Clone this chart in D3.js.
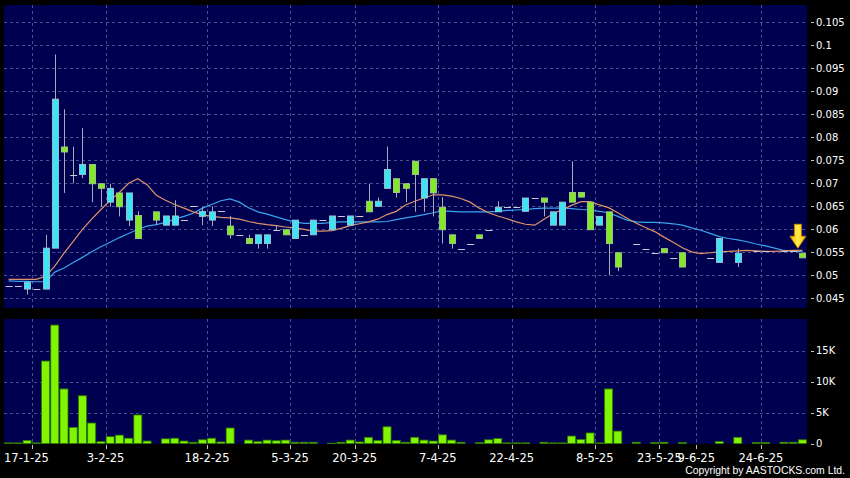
<!DOCTYPE html>
<html><head><meta charset="utf-8">
<script src="https://cdn.jsdelivr.net/npm/d3@7"></script>
<style>body{margin:0;background:#000;overflow:hidden}svg{display:block}</style>
</head><body>
<svg id="chart" width="850" height="478"></svg>
<script>
// ---- data (one slot per trading bar; null = no candle) ----
const openP  = [0.0477,0.0477,0.047,0.047,0.047,0.0559,0.0779,0.0719,0.0719,0.0741,0.0699,0.0659,0.0679,0.062,0.063,null,0.0638,0.0609,0.0609,0.062,0.0651,0.0628,0.062,0.064,0.0607,0.0588,0.058,0.0569,0.0569,0.0599,0.0599,0.058,0.0588,0.0588,0.062,0.0599,0.0629,0.0609,0.0629,0.0661,0.065,0.0689,0.071,0.0699,0.0748,0.0668,0.071,0.0648,0.0588,0.0558,0.0569,0.0588,0.0599,0.0638,0.0648,0.0648,0.0639,0.0668,0.0668,0.0609,0.0609,0.068,0.068,0.0659,0.0609,0.0638,0.0549,null,0.0569,0.0558,0.0549,0.0558,0.0538,0.0549,null,null,0.0538,0.0528,null,0.0528,null,0.0553,0.0553,null,0.0553,0.0553,0.0548];
const highP  = [0.0477,0.0477,0.0485,0.047,0.0588,0.098,0.0861,0.078,0.082,0.0741,0.0699,0.0699,0.0679,0.0679,0.0639,null,0.0638,0.0629,0.0663,0.062,0.0651,0.0648,0.065,0.064,0.0629,0.0588,0.0588,0.0588,0.0588,0.0609,0.0599,0.062,0.0588,0.062,0.062,0.0629,0.0629,0.0629,0.0629,0.0699,0.0669,0.078,0.071,0.0699,0.0748,0.071,0.071,0.067,0.0588,0.0558,0.0569,0.0588,0.0599,0.0661,0.0648,0.0648,0.0668,0.0668,0.0668,0.0638,0.0659,0.0748,0.068,0.0659,0.0628,0.0638,0.0549,null,0.0569,0.0558,0.0549,0.0558,0.0538,0.0549,null,null,0.0538,0.058,null,0.0558,null,0.0553,0.0553,null,0.0553,0.0553,0.0548];
const lowP   = [0.0477,0.0477,0.0458,0.047,0.047,0.0559,0.0679,0.070,0.0711,0.0659,0.0649,0.0649,0.0628,0.0607,0.058,null,0.0609,0.0609,0.0609,0.062,0.0651,0.0609,0.0607,0.064,0.058,0.0588,0.0569,0.0558,0.0558,0.0599,0.0588,0.058,0.0588,0.0588,0.062,0.0599,0.0629,0.0609,0.0629,0.0638,0.065,0.0689,0.0669,0.0659,0.0638,0.0638,0.0628,0.0569,0.0558,0.0558,0.0569,0.058,0.0599,0.0638,0.0648,0.0648,0.0639,0.0668,0.0628,0.0609,0.0609,0.0659,0.067,0.0599,0.0609,0.050,0.0509,null,0.0569,0.0558,0.0549,0.0549,0.0538,0.0518,null,null,0.0538,0.0528,null,0.0518,null,0.0553,0.0553,null,0.0553,0.0553,0.0538];
const closeP = [0.0477,0.0477,0.0485,0.047,0.0559,0.0883,0.0768,0.0719,0.0741,0.0699,0.0689,0.0689,0.0649,0.0679,0.058,null,0.062,0.0629,0.0629,0.062,0.0651,0.0639,0.0638,0.064,0.0588,0.0588,0.0569,0.0588,0.0588,0.0599,0.0588,0.062,0.0588,0.062,0.062,0.0629,0.0629,0.0629,0.0629,0.0638,0.0661,0.073,0.068,0.0689,0.0719,0.071,0.0679,0.0599,0.0569,0.0558,0.0569,0.058,0.0599,0.0648,0.0648,0.0648,0.0668,0.0668,0.0659,0.0638,0.0659,0.0659,0.067,0.0599,0.0628,0.0569,0.0518,null,0.0569,0.0558,0.0549,0.0549,0.0538,0.0518,null,null,0.0538,0.058,null,0.0548,null,0.0553,0.0553,null,0.0553,0.0553,0.0538];
const volumeK = [0.1,0.1,0.5,0.1,13.3,19.1,8.8,2.6,7.7,3.3,0.3,1.1,1.35,0.85,4.6,0.4,0,0.75,0.85,0.4,0.2,0.6,0.85,0.25,2.5,0,0.55,0.3,0.55,0.45,0.55,0.2,0.2,0.2,0,0.05,0.2,0.55,0.25,1.0,0.5,2.7,0.5,0.2,1.0,0.55,0.4,1.4,0.55,0.2,0,0.15,0.6,0.8,0.1,0.1,0.1,0,0.2,0.1,0.1,1.2,0.65,1.7,0.1,8.8,2.0,0,0.2,0,0.15,0.2,0,0.15,0,0,0,0.3,0,1.0,0,0.15,0.15,0,0.2,0.2,0.6];
const ma10 = [0.0491,0.0491,0.0491,0.0491,0.0498,0.0520,0.0548,0.0574,0.0600,0.0622,0.0643,0.0663,0.0680,0.0700,0.0710,0.0697,0.0674,0.0663,0.0654,0.0646,0.0638,0.0632,0.0628,0.0626,0.0625,0.0622,0.0617,0.0613,0.0610,0.0608,0.0605,0.0603,0.0600,0.0596,0.0596,0.0597,0.0602,0.0608,0.0612,0.0616,0.0622,0.0632,0.0639,0.0653,0.0661,0.0668,0.0675,0.0675,0.0672,0.0667,0.0659,0.0646,0.0636,0.0629,0.0623,0.0616,0.0611,0.0609,0.0622,0.0634,0.0643,0.0652,0.0660,0.0660,0.0653,0.0647,0.0636,0.0624,0.0613,0.0604,0.0595,0.0583,0.0572,0.0560,0.0551,0.0547,0.0549,0.0551,0.0552,0.0553,0.0554,0.0553,0.0552,0.0552,0.0553,0.0554,0.0554];
const ma20 = [0.0488,0.0487,0.0487,0.0486,0.0486,0.0507,0.0516,0.0528,0.0539,0.0551,0.0562,0.0572,0.0582,0.0591,0.0600,0.0607,0.0610,0.0615,0.0622,0.0628,0.0635,0.0646,0.0654,0.0662,0.0666,0.0659,0.0647,0.0638,0.0633,0.0627,0.0621,0.0616,0.0613,0.0613,0.0613,0.0615,0.0616,0.0616,0.0616,0.0616,0.0616,0.0617,0.0621,0.0625,0.0628,0.0632,0.0636,0.0640,0.0639,0.0638,0.0638,0.0638,0.0638,0.0639,0.0641,0.0642,0.0643,0.0645,0.0646,0.0646,0.0646,0.0645,0.0643,0.0642,0.0639,0.0636,0.0628,0.0620,0.0616,0.0615,0.0615,0.0614,0.0612,0.0609,0.0603,0.0598,0.0591,0.0584,0.0580,0.0577,0.0573,0.0568,0.0564,0.0559,0.0554,0.0552,0.0552];
const dateLabels = ["17-1-25","3-2-25","18-2-25","5-3-25","20-3-25","7-4-25","22-4-25","8-5-25","23-5-25","9-6-25","24-6-25"];
const dateIndex  = [2.5,10.5,21.5,30.5,37.5,46.5,54.5,63.5,70.5,74.5,81.5];
const priceTicks = [0.045,0.05,0.055,0.06,0.065,0.07,0.075,0.08,0.085,0.09,0.095,0.1,0.105];
const volTicks = [0,5,10,15];
const volTickLabels = ["0","5K","10K","15K"];

// ---- layout ----
const svg = d3.select("#chart");
const L = 4, R = 807;
const main = {top:5, bottom:308};
const vol = {top:319, bottom:444};
const n = closeP.length;
const x = d3.scaleLinear().domain([-0.5, n - 0.5]).range([L, R]);
const y = d3.scaleLinear().domain([0.045, 0.105]).range([298.3, 22.3]);
const yv = d3.scaleLinear().domain([0, 15]).range([443.5, 350.5]);

svg.append("rect").attr("width",850).attr("height",478).attr("fill","#000");
const bg = "#000050";
svg.append("rect").attr("x",L).attr("y",main.top).attr("width",R-L).attr("height",main.bottom-main.top).attr("fill",bg);
svg.append("rect").attr("x",L).attr("y",vol.top).attr("width",R-L).attr("height",vol.bottom-vol.top).attr("fill",bg);

const gridColor = "#4e4e8c";
const defs = svg.append("defs");
defs.append("clipPath").attr("id","clipMain").append("rect").attr("x",L).attr("y",main.top).attr("width",R-L).attr("height",main.bottom-main.top);
defs.append("clipPath").attr("id","clipVol").append("rect").attr("x",L).attr("y",vol.top).attr("width",R-L).attr("height",vol.bottom-vol.top);

// grid main
const gMain = svg.append("g").attr("clip-path","url(#clipMain)");
gMain.selectAll("line.h").data(priceTicks).join("line")
  .attr("x1",L).attr("x2",R).attr("y1",d=>Math.round(y(d))+0.5).attr("y2",d=>Math.round(y(d))+0.5)
  .attr("stroke",gridColor).attr("stroke-width",1).attr("stroke-dasharray","3,3");
gMain.selectAll("line.v").data(dateIndex).join("line")
  .attr("x1",d=>Math.round(x(d))+0.5).attr("x2",d=>Math.round(x(d))+0.5).attr("y1",main.top).attr("y2",main.bottom)
  .attr("stroke",gridColor).attr("stroke-width",1).attr("stroke-dasharray","3,3");

// grid volume
const gVol = svg.append("g").attr("clip-path","url(#clipVol)");
gVol.selectAll("line.h").data(volTicks.slice(1)).join("line")
  .attr("x1",L).attr("x2",R).attr("y1",d=>Math.round(yv(d))+0.5).attr("y2",d=>Math.round(yv(d))+0.5)
  .attr("stroke",gridColor).attr("stroke-dasharray","3,3");
gVol.selectAll("line.v").data(dateIndex).join("line")
  .attr("x1",d=>Math.round(x(d))+0.5).attr("x2",d=>Math.round(x(d))+0.5).attr("y1",vol.top).attr("y2",vol.bottom)
  .attr("stroke",gridColor).attr("stroke-dasharray","3,3");

// volume bars
const idx = d3.range(n);
gVol.selectAll("rect.vb").data(idx.filter(i=>volumeK[i]>0)).join("rect")
  .attr("x",i=>x(i)-4).attr("width",8)
  .attr("y",i=>yv(volumeK[i])).attr("height",i=>Math.max(0.8,yv(0)-yv(volumeK[i])))
  .attr("fill","#80f400").attr("stroke","#2f7a00").attr("stroke-width",0.8);

// moving averages
const line = d3.line().x((d,i)=>x(i)).y(d=>y(d)).curve(d3.curveLinear);
gMain.append("path").datum(ma20).attr("d",line).attr("fill","none").attr("stroke","#3aa4ec").attr("stroke-width",1.2);
gMain.append("path").datum(ma10).attr("d",line).attr("fill","none").attr("stroke","#e0926a").attr("stroke-width",1.2);

// candles
const valid = idx.filter(i=>closeP[i]!==null);
const colorOf = i => closeP[i]>openP[i] ? "up" : (closeP[i]<openP[i] ? "down" : "flat");
gMain.selectAll("line.wick").data(valid.filter(i=>highP[i]>lowP[i])).join("line")
  .attr("x1",i=>Math.round(x(i))+0.5).attr("x2",i=>Math.round(x(i))+0.5)
  .attr("y1",i=>y(highP[i])).attr("y2",i=>y(lowP[i]))
  .attr("stroke","#a8a8b8").attr("stroke-width",1);
gMain.selectAll("rect.body").data(valid.filter(i=>colorOf(i)!=="flat")).join("rect")
  .attr("x",i=>Math.round(x(i))-2.5).attr("width",6)
  .attr("y",i=>y(Math.max(openP[i],closeP[i])))
  .attr("height",i=>Math.abs(y(openP[i])-y(closeP[i])))
  .attr("fill",i=>colorOf(i)==="up"?"#3ee4f4":"#84e82a")
  .attr("stroke",i=>colorOf(i)==="up"?"#9ec4d0":"#a4c88a").attr("stroke-width",0.9);
gMain.selectAll("line.flat").data(valid.filter(i=>colorOf(i)==="flat")).join("line")
  .attr("x1",i=>x(i)-3).attr("x2",i=>x(i)+4)
  .attr("y1",i=>Math.round(y(closeP[i]))+0.5).attr("y2",i=>Math.round(y(closeP[i]))+0.5)
  .attr("stroke","#c8c8d8").attr("stroke-width",1);

// yellow arrow over last bar
const ax = x(n-1) - 4.5, ay = y(highP[n-1]) - 5;
const grad = defs.append("linearGradient").attr("id","arrowGrad").attr("x1","0").attr("x2","1").attr("y1","0").attr("y2","0");
grad.append("stop").attr("offset","0").attr("stop-color","#ffb400");
grad.append("stop").attr("offset","0.5").attr("stop-color","#fff04a");
grad.append("stop").attr("offset","1").attr("stop-color","#ffb400");
svg.append("path")
  .attr("d",`M${ax-3.5},${ay-24} L${ax+3.5},${ay-24} L${ax+3.5},${ay-12} L${ax+8},${ay-12} L${ax},${ay} L${ax-8},${ay-12} L${ax-3.5},${ay-12} Z`)
  .attr("fill","url(#arrowGrad)").attr("stroke","#d08a00").attr("stroke-width",0.8);

// right axes
const font = "DejaVu Sans, Verdana, sans-serif";
const fmtP = d => String(+d.toFixed(3));
const gAx = svg.append("g");
gAx.selectAll("line.pt").data(priceTicks).join("line")
  .attr("x1",811).attr("x2",814).attr("y1",d=>Math.round(y(d))+0.5).attr("y2",d=>Math.round(y(d))+0.5)
  .attr("stroke","#c0c0c0");
gAx.selectAll("text.pt").data(priceTicks).join("text")
  .attr("x",816).attr("y",d=>y(d)+3.6).text(fmtP)
  .attr("fill","#fff").attr("font-family",font).attr("font-size",10);
gAx.selectAll("line.vt").data(volTicks).join("line")
  .attr("x1",811).attr("x2",814).attr("y1",d=>Math.round(yv(d))+0.5).attr("y2",d=>Math.round(yv(d))+0.5)
  .attr("stroke","#c0c0c0");
gAx.selectAll("text.vt").data(volTicks).join("text")
  .attr("x",816).attr("y",d=>yv(d)+3.6).text((d,i)=>volTickLabels[i])
  .attr("fill","#fff").attr("font-family",font).attr("font-size",10);

// date axis
gAx.selectAll("line.dt").data(dateIndex).join("line")
  .attr("x1",d=>Math.round(x(d))+0.5).attr("x2",d=>Math.round(x(d))+0.5).attr("y1",445).attr("y2",449)
  .attr("stroke","#c0c0c0");
gAx.selectAll("text.dt").data(dateIndex).join("text")
  .attr("x",(d,i)=> i===0 ? L : x(d)).attr("text-anchor",(d,i)=> i===0 ? "start" : "middle")
  .attr("y",462).text((d,i)=>dateLabels[i])
  .attr("fill","#fff").attr("font-family",font).attr("font-size",11.5);

svg.append("text").attr("x",845).attr("y",474).attr("text-anchor","end")
  .text("Copyright by AASTOCKS.com Ltd.")
  .attr("fill","#fff").attr("font-family","Liberation Sans, Arial, sans-serif").attr("font-size",10.4);
</script>
</body></html>
